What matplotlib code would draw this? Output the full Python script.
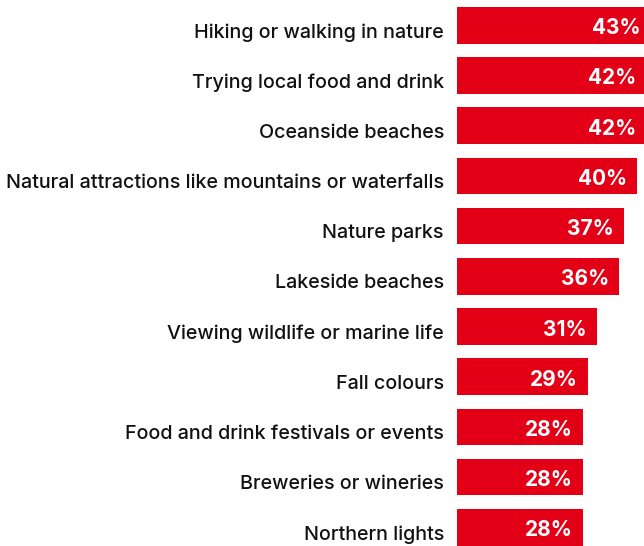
import matplotlib
matplotlib.use("Agg")
import matplotlib.pyplot as plt
from matplotlib.transforms import ScaledTranslation

categories = [
    "Hiking or walking in nature",
    "Trying local food and drink",
    "Oceanside beaches",
    "Natural attractions like mountains or waterfalls",
    "Nature parks",
    "Lakeside beaches",
    "Viewing wildlife or marine life",
    "Fall colours",
    "Food and drink festivals or events",
    "Breweries or wineries",
    "Northern lights",
]
values = [43, 42, 42, 40, 37, 36, 31, 29, 28, 28, 28]

BAR_COLOR = "#E30016"
TEXT_COLOR = "#111111"
FONT = ["Inter", "DejaVu Sans"]

W, H, DPI = 644, 546, 100
fig = plt.figure(figsize=(W / DPI, H / DPI), dpi=DPI)

# axes start where bars begin and run to the right edge; bars past it get clipped
left_px = 457
px_per_unit = 4.5
pitch = 50.2
first_center = 25.3
ax = fig.add_axes([left_px / W, 0, 1 - left_px / W, 1])
ax.set_xlim(0, (W - left_px) / px_per_unit)
n = len(categories)
top = -first_center / pitch
bottom = top + H / pitch
ax.set_ylim(bottom, top)
ax.axis("off")

ypos = list(range(n))
ax.barh(ypos, values, height=36.7 / pitch, color=BAR_COLOR, linewidth=0)

def px_offset(dx, dy):
    return ScaledTranslation(dx / DPI, dy / DPI, fig.dpi_scale_trans)

lab_trans = ax.get_yaxis_transform() + px_offset(-13, -7)
val_trans = ax.transData + px_offset(-10, -3)

for y, cat, v in zip(ypos, categories, values):
    ax.text(0, y, cat, transform=lab_trans, ha="right", va="center",
            fontsize=14.2, fontweight="medium", color=TEXT_COLOR,
            family=FONT, clip_on=False)
    ax.text(v, y, f"{v}%", transform=val_trans, ha="right", va="center",
            fontsize=15, fontweight="bold", color="white",
            family=FONT, clip_on=False)

fig.savefig("out.png", dpi=DPI)
